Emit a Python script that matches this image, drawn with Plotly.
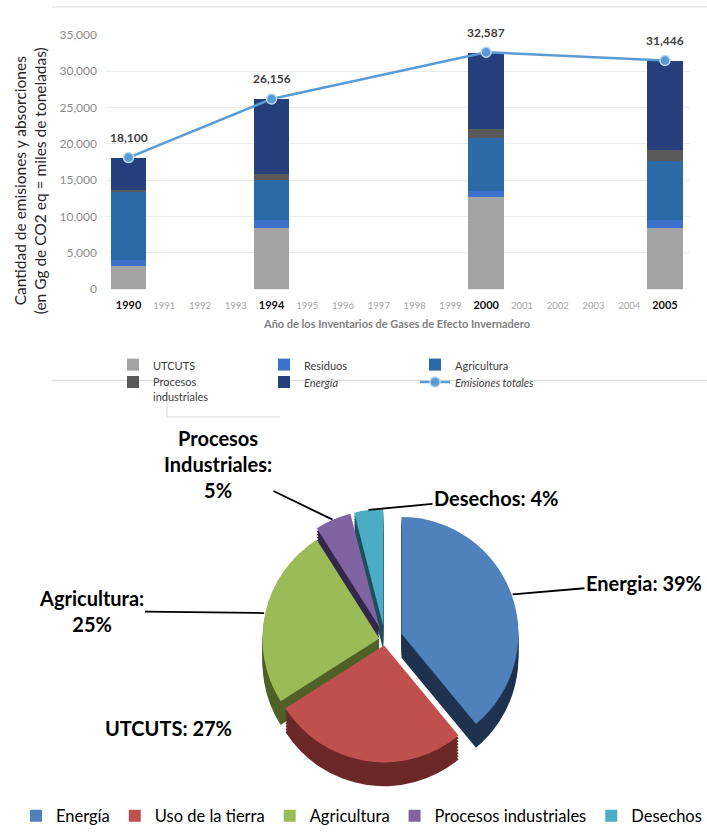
import math
import plotly.graph_objects as go

# ---------------- data ----------------
inventory_years = [1990, 1994, 2000, 2005]
axis_years = list(range(1990, 2006))
utcuts = [3300, 8500, 12700, 8400]
residuos = [800, 1000, 900, 1200]
agricultura = [9300, 5500, 7300, 8100]
procesos = [300, 950, 1200, 1500]
energia = [4400, 10206, 10487, 12246]
emisiones_totales = [18100, 26156, 32587, 31446]

bar_names = ["UTCUTS", "Residuos", "Agricultura", "Procesos<br>industriales", "<i>Energía</i>"]
line_name = "<i>Emisiones totales</i>"

pie_labels = ["Energía", "Uso de la tierra", "Agricultura", "Procesos industriales", "Desechos"]
pie_label_names = ["Energia", "UTCUTS", "Agricultura", "Procesos<br>Industriales", "Desechos"]
pie_values = [39, 27, 25, 5, 4]

# ---------------- layout helpers ----------------
W, H = 707, 834


def fx(px):
    return px / W


def fy(py):
    return 1 - py / H


FONT = "Lato, 'Open Sans', sans-serif"

bar_colors = ["#a3a3a3", "#3d72cc", "#2b6aa6", "#5a5a5a", "#243f7c"]
bar_legends = ["legend", "legend", "legend", "legend3", "legend3"]

fig = go.Figure()

series = [utcuts, residuos, agricultura, procesos, energia]
for name, vals, col, lg in zip(bar_names, series, bar_colors, bar_legends):
    fig.add_trace(go.Bar(
        x=inventory_years, y=vals, name=name, width=1.0,
        marker=dict(color=col, line=dict(width=0)),
        legend=lg, hoverinfo="skip",
    ))

fig.add_trace(go.Scatter(
    x=inventory_years, y=emisiones_totales, name=line_name,
    mode="lines+markers",
    line=dict(color="#5b9bd5", width=2.5),
    marker=dict(size=10, color="#5b9bd5", line=dict(color="#bcd6ee", width=1.5)),
    legend="legend3", cliponaxis=False,
))

# ---------------- pie (flat pie with stacked darker copies for depth) ----------------
pie_cx, pie_cy, pie_r = 385, 646, 118
depth = 24
pulls = [0.15, 0.05, 0.05, 0.12, 0.12]
max_pull = max(pulls)
half = pie_r * (1 + max_pull)
pie_colors = ["#4f81bd", "#c0504d", "#9bbb59", "#8064a2", "#4bacc6"]
side_colors = ["#1f3350", "#6b2826", "#4f6128", "#33284a", "#1f4f5c"]


def pie_domain(offset):
    return dict(
        x=[fx(pie_cx - half), fx(pie_cx + half)],
        y=[fy(pie_cy + offset + half), fy(pie_cy + offset - half)],
    )


for off in range(depth, 0, -3):
    fig.add_trace(go.Pie(
        labels=pie_labels, values=pie_values, sort=False, direction="clockwise",
        rotation=0, pull=pulls, textinfo="none", hoverinfo="skip",
        marker=dict(colors=side_colors, line=dict(width=0)),
        domain=pie_domain(off), showlegend=False,
    ))

fig.add_trace(go.Pie(
    labels=pie_labels, values=pie_values, sort=False, direction="clockwise",
    rotation=0, pull=pulls, textinfo="none",
    marker=dict(colors=pie_colors, line=dict(width=0)),
    domain=pie_domain(0), legend="legend2",
))

# ---------------- annotations ----------------
annotations = []
for x, t in zip(inventory_years, emisiones_totales):
    annotations.append(dict(
        x=x, y=t, xref="x", yref="y", text=f"<b>{t:,}</b>", showarrow=False,
        yshift=20, font=dict(family=FONT, size=12, color="#404040"),
    ))

annotations.append(dict(
    x=fx(30), y=fy(183), xref="paper", yref="paper", textangle=-90, showarrow=False,
    xanchor="center", yanchor="middle",
    text="Cantidad de emisiones y absorciones<br>(en Gg de CO2 eq = miles de toneladas)",
    font=dict(family=FONT, size=15.5, color="#262626"),
))
annotations.append(dict(
    x=fx(397), y=fy(327), xref="paper", yref="paper", showarrow=False,
    xanchor="center", yanchor="middle",
    text="<b>Año de los Inventarios de Gases de Efecto Invernadero</b>",
    font=dict(family=FONT, size=11, color="#808080"),
))

# pie data labels
label_seps = [": ", ": ", ":<br>", ":<br>", ": "]
label_pos = [(644, 589), (168, 735), (91, 617), (218, 469), (496, 503)]
label_arrow = [True, False, True, True, True]
cum = 0.0
total = sum(pie_values)
for i, v in enumerate(pie_values):
    mid = (cum + v / 2) / total * 2 * math.pi
    cum += v
    R = pie_r * (1 + pulls[i])
    hx = pie_cx + R * math.sin(mid)
    hy = pie_cy - R * math.cos(mid)
    tx, ty = label_pos[i]
    text = f"<b>{pie_label_names[i]}{label_seps[i]}{v}%</b>"
    if label_arrow[i]:
        annotations.append(dict(
            x=fx(hx), y=fy(hy), xref="paper", yref="paper", text=text,
            showarrow=True, arrowhead=0, arrowwidth=1.8, arrowcolor="#000000",
            ax=tx - hx, ay=ty - hy, standoff=0,
            font=dict(family=FONT, size=20, color="#000000"),
        ))
    else:
        annotations.append(dict(
            x=fx(tx), y=fy(ty), xref="paper", yref="paper", text=text,
            xanchor="center", yanchor="middle",
            showarrow=False, font=dict(family=FONT, size=20, color="#000000"),
        ))

# ---------------- frame lines ----------------
line_style = dict(color="#d9d9d9", width=1)
shapes = [
    dict(type="line", xref="paper", yref="paper", x0=fx(52), x1=1, y0=fy(7), y1=fy(7), line=line_style),
    dict(type="line", xref="paper", yref="paper", x0=fx(52), x1=fx(167), y0=fy(384), y1=fy(384), line=line_style),
    dict(type="line", xref="paper", yref="paper", x0=fx(280), x1=1, y0=fy(384), y1=fy(384), line=line_style),
    dict(type="line", xref="paper", yref="paper", x0=fx(167), x1=fx(167), y0=fy(384), y1=fy(421), line=line_style),
    dict(type="line", xref="paper", yref="paper", x0=fx(167), x1=fx(280), y0=fy(421), y1=fy(421), line=line_style),
]

main_years = set(inventory_years)
ticktext = [
    f"<span style='font-size:11px;color:#111111'><b>{y}</b></span>" if y in main_years else str(y)
    for y in axis_years
]

legend_common = dict(
    orientation="h", xanchor="left", entrywidth=106, entrywidthmode="pixels",
    font=dict(family=FONT, size=11, color="#404040"), bgcolor="rgba(0,0,0,0)",
    itemwidth=30, traceorder="normal", valign="top",
)

fig.update_layout(
    width=W, height=H,
    margin=dict(l=0, r=0, t=0, b=0),
    paper_bgcolor="white", plot_bgcolor="white",
    barmode="stack", bargap=0,
    font=dict(family=FONT),
    xaxis=dict(
        domain=[fx(106), fx(690)], range=[1989.37, 2005.7],
        tickmode="array", tickvals=axis_years, ticktext=ticktext,
        tickfont=dict(family=FONT, size=9.5, color="#a6a6a6"),
        showgrid=False, zeroline=False, showline=False, ticks="",
        ticklabelstandoff=9, automargin=False,
    ),
    yaxis=dict(
        domain=[fy(292), fy(35)], range=[0, 35000], dtick=5000,
        tickformat=",", tickfont=dict(family=FONT, size=12, color="#8c8c8c"),
        gridcolor="#ececec", gridwidth=1, zeroline=False, showline=False,
        ticklabelstandoff=8, automargin=False,
    ),
    legend=dict(x=fx(113), y=fy(369), yanchor="middle", **legend_common),
    legend3=dict(x=fx(113), y=fy(372), yanchor="top", **legend_common),
    legend2=dict(
        orientation="h", x=fx(372), xanchor="center", y=fy(824), yanchor="middle",
        font=dict(family=FONT, size=16.5, color="#000000"), bgcolor="rgba(0,0,0,0)",
        traceorder="normal",
    ),
    annotations=annotations,
    shapes=shapes,
    showlegend=True,
)

fig.write_html(
    "out.html",
    config={"displayModeBar": False},
    post_script="document.body.style.margin='0';document.body.style.overflow='hidden';",
)
